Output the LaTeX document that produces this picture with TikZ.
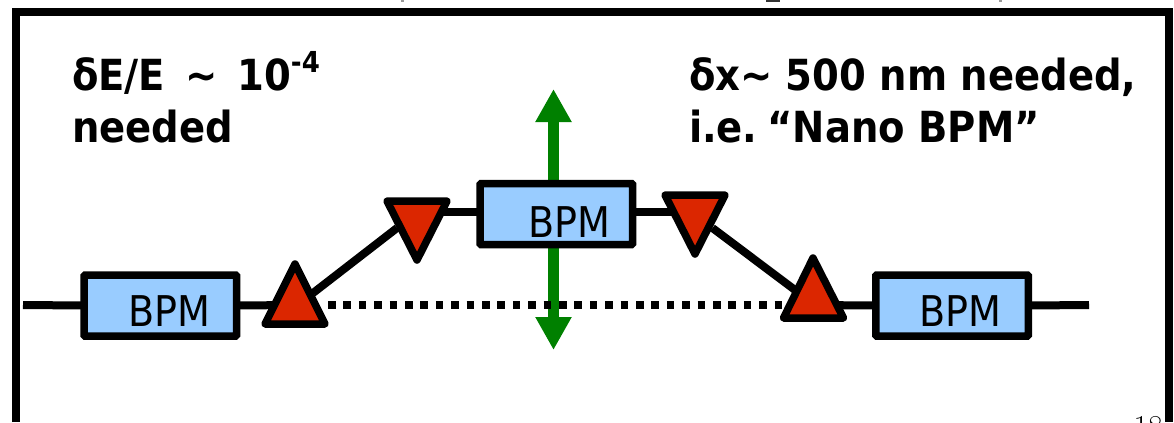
\documentclass[tikz,border=0pt]{standalone}
\usepackage{fontspec}
\newfontfamily\lblfont{DejaVu Sans Condensed Bold}
\newfontfamily\bpmfont{DejaVu Sans Condensed}
\usetikzlibrary{arrows.meta}
\definecolor{bpmblue}{HTML}{99CCFF}
\definecolor{tri}{HTML}{DB2600}
\definecolor{grn}{HTML}{008000}
\tikzset{
 px/.style={x=1bp,y=-1bp},
 lbl/.style={inner sep=0pt,outer sep=0pt,anchor=base west,font=\lblfont\fontsize{43}{43}\selectfont},
 bpmbox/.style={draw=black,fill=bpmblue,line width=7.5bp,rounded corners=1bp,minimum width=152.5bp,minimum height=61bp,inner sep=0pt,outer sep=0pt},
 bpmtxt/.style={inner sep=0pt,outer sep=0pt,anchor=base west,font=\bpmfont\fontsize{42.5}{42.5}\selectfont},
 trishape/.style={draw=black,fill=tri,line width=7.5bp,line join=round},
 wire/.style={draw=black,line width=8bp},
 dotline/.style={draw=black,line width=8bp,dash pattern=on 7.5bp off 7.9bp},
 grnarrow/.style={draw=grn,line width=11bp,{Triangle[width=34bp,length=33bp]}-{Triangle[width=34bp,length=33bp]}},
}
\begin{document}
\begin{tikzpicture}[px]
\useasboundingbox (0,0) rectangle (1174,422);
\clip (0,0) rectangle (1174,422);
% frame
\draw[black,line width=8bp,line join=miter] (16,422) -- (16,12) -- (1168.5,12) -- (1168.5,422);
% clipped title descenders and page number
\fill[black!40] (401,0) rectangle (404,1.5);
\fill[black!80] (766,0) rectangle (780,1.5);
\fill[black!40] (999,0) rectangle (1002,1.5);
\node[inner sep=0pt,anchor=base east,font=\fontsize{32}{32}\selectfont] (pg) at (1163,437) {18};
% green arrow
\coordinate (gt) at (553.5,89);
\coordinate (gb) at (553.5,350);
\draw[grnarrow] (gt) -- (gb);
% wires
\coordinate (ls) at (23,305);
\coordinate (le) at (1089,305);
\node[bpmbox] (b1) at (160.3,305.5) {};
\node[bpmbox] (b2) at (556.3,214) {};
\node[bpmbox] (b3) at (952,305.5) {};
\coordinate (t1) at (295,305);
\coordinate (t2) at (417,212);
\coordinate (t3) at (695,212);
\coordinate (t4) at (813,305);
\coordinate (d1) at (328,305);
\coordinate (d2) at (784,305);
\coordinate (a1) at (313,293);
\coordinate (a2) at (397,228);
\coordinate (a3) at (712.5,228);
\coordinate (a4) at (795,290);
\draw[wire] (ls) -- (b1.west);
\draw[wire] (b1.east) -- (t1);
\draw[wire] (t2) -- (b2.west |- t2);
\draw[wire] (b2.east |- t3) -- (t3);
\draw[wire] (t4) -- (b3.west);
\draw[wire] (b3.east) -- (le);
\draw[wire] (a1) -- (a2);
\draw[wire] (a3) -- (a4);
\draw[dotline] (d1) -- (d2);
% triangles
\draw[trishape] (265,324) -- (325,324) -- (295,264) -- cycle;
\draw[trishape] (387,201) -- (447,201) -- (417,260) -- cycle;
\draw[trishape] (665,195) -- (725,195) -- (695,254) -- cycle;
\draw[trishape] (783.5,318) -- (843.5,318) -- (813,258) -- cycle;
% BPM labels
\node[bpmtxt] (l1) at (128,326.7) {BPM};
\node[bpmtxt] (l2) at (528,237.7) {BPM};
\node[bpmtxt] (l3) at (919,326.7) {BPM};
% text
\node[lbl] (e1) at (72,90) {δE/E\hspace{7bp} \char"007E{}\hspace{6bp} 10\raisebox{0.42em}{\fontsize{29}{29}\selectfont -4}};
\node[lbl] (e2) at (72,142) {needed};
\node[lbl] (x1) at (689,90) {δx\char"007E{} 500 nm needed,};
\node[lbl] (x2) at (689,142) {i.e.\hspace{-8bp} “Nano BPM”};
\end{tikzpicture}
\end{document}
